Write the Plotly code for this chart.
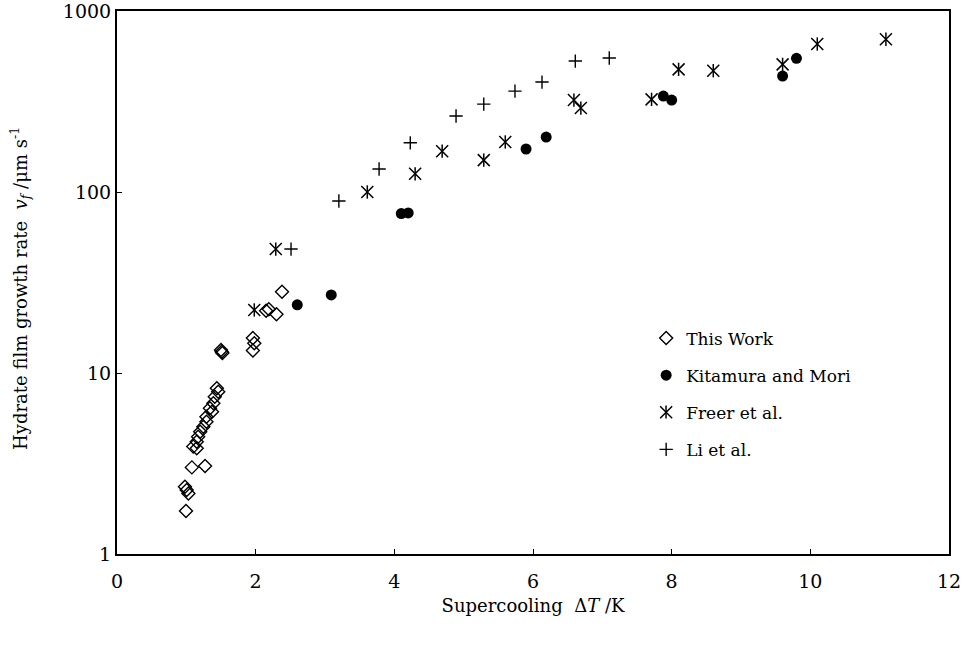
import plotly.graph_objects as go

# Supercooling (K) and film growth rate (um/s) for each data set
this_work_dt = [2.38, 2.15, 2.19, 2.30, 1.96, 1.98, 1.96, 1.51, 1.50, 1.52,
                1.44, 1.46, 1.41, 1.39, 1.34, 1.37, 1.29, 1.29, 1.245, 1.20,
                1.17, 1.15, 1.10, 1.15, 1.08, 1.27, 0.98, 1.005, 1.03, 0.995]
this_work_vf = [28.1, 22.1, 22.5, 21.1, 15.6, 14.6, 13.3, 13.1, 13.4, 12.9,
                8.23, 7.87, 7.4, 6.8, 6.38, 6.11, 5.74, 5.38, 5.05, 4.74,
                4.45, 4.17, 3.92, 3.84, 3.01, 3.06, 2.35, 2.26, 2.16, 1.73]

kitamura_dt = [2.60, 3.09, 4.10, 4.20, 5.90, 6.19, 7.88, 8.00, 9.60, 9.80]
kitamura_vf = [23.8, 27.0, 76.0, 76.6, 172.8, 201, 339, 322, 437, 548]

freer_dt = [1.98, 2.29, 3.61, 4.30, 4.69, 5.29, 5.60, 6.59, 6.69, 7.71,
            8.10, 8.60, 9.60, 10.10, 11.09]
freer_vf = [22.3, 48.4, 100, 126, 168, 150, 189, 322, 291, 325,
            476, 468, 507, 657, 698]

li_dt = [2.51, 3.20, 3.78, 4.23, 4.89, 5.29, 5.74, 6.13, 6.61, 7.10]
li_vf = [48.4, 89.2, 134, 187, 263, 306, 361, 405, 529, 550]

x_ticks = [0, 2, 4, 6, 8, 10, 12]
y_ticks = [1, 10, 100, 1000]
y_tick_text = ["1", "10", "100", "1000"]

FONT = "DejaVu Serif"
INK = "black"

fig = go.Figure()

fig.add_trace(go.Scatter(
    x=this_work_dt, y=this_work_vf, mode="markers", name="This Work",
    legendgroup="a",
    marker=dict(symbol="diamond-open", size=10, color=INK,
                line=dict(width=1.4, color=INK)),
))
fig.add_trace(go.Scatter(
    x=kitamura_dt, y=kitamura_vf, mode="markers", name="Kitamura and Mori",
    legendgroup="b",
    marker=dict(symbol="circle", size=11, color=INK, line=dict(width=0)),
))
# six-armed star: diagonal cross plus a vertical stroke
fig.add_trace(go.Scatter(
    x=freer_dt, y=freer_vf, mode="markers", name="Freer et al.",
    legendgroup="c",
    marker=dict(symbol="x-thin-open", size=12, color=INK,
                line=dict(width=1.5, color=INK)),
))
fig.add_trace(go.Scatter(
    x=freer_dt, y=freer_vf, mode="markers", name="Freer et al.",
    legendgroup="c", showlegend=False,
    marker=dict(symbol="line-ns-open", size=9.5, color=INK,
                line=dict(width=1.5, color=INK)),
))
fig.add_trace(go.Scatter(
    x=li_dt, y=li_vf, mode="markers", name="Li et al.",
    legendgroup="d",
    marker=dict(symbol="cross-thin-open", size=9.5, color=INK,
                line=dict(width=1.4, color=INK)),
))

# vertical stroke completing the star glyph in the legend
fig.add_shape(type="line", xref="paper", yref="paper",
              x0=0.6599, x1=0.6599, y0=0.2615 - 0.0121, y1=0.2615 + 0.0121,
              line=dict(color=INK, width=1.5))

# rotated y-axis title
fig.add_annotation(
    text="Hydrate film growth rate  <i>v<sub>f</sub></i> /μm s<sup>-1</sup>",
    xref="paper", yref="paper", x=-0.1166, y=0.49,
    xanchor="center", yanchor="middle", textangle=-90, showarrow=False,
    font=dict(family=FONT, size=18, color=INK),
)

fig.update_layout(
    width=964, height=650,
    margin=dict(l=117, r=15, t=11, b=96),
    paper_bgcolor="white", plot_bgcolor="white",
    font=dict(family=FONT, size=17, color=INK),
    showlegend=True,
    legend=dict(
        x=0.636, y=0.43, xanchor="left", yanchor="top",
        bgcolor="rgba(0,0,0,0)", borderwidth=0,
        font=dict(family=FONT, size=17, color=INK),
        tracegroupgap=12, itemsizing="trace",
    ),
    xaxis=dict(
        range=[0, 12], tickvals=x_ticks, ticks="inside", ticklen=5,
        tickwidth=1.3, tickcolor=INK, showline=True, linewidth=2,
        linecolor=INK, mirror=True, showgrid=False, zeroline=False,
        automargin=False, ticklabelstandoff=9, ticklabeloverflow="allow",
        tickfont=dict(family=FONT, size=19),
        title=dict(text="Supercooling  Δ<i>T</i> /K", standoff=9,
                   font=dict(family=FONT, size=18)),
    ),
    yaxis=dict(
        type="log", range=[0, 3], tickvals=y_ticks, ticktext=y_tick_text,
        ticks="inside", ticklen=5, tickwidth=1.3, tickcolor=INK,
        showline=True, linewidth=2, linecolor=INK, mirror=True,
        showgrid=False, zeroline=False, automargin=False,
        ticklabeloverflow="allow",
        tickfont=dict(family=FONT, size=19),
    ),
)

fig.write_html("out.html")
